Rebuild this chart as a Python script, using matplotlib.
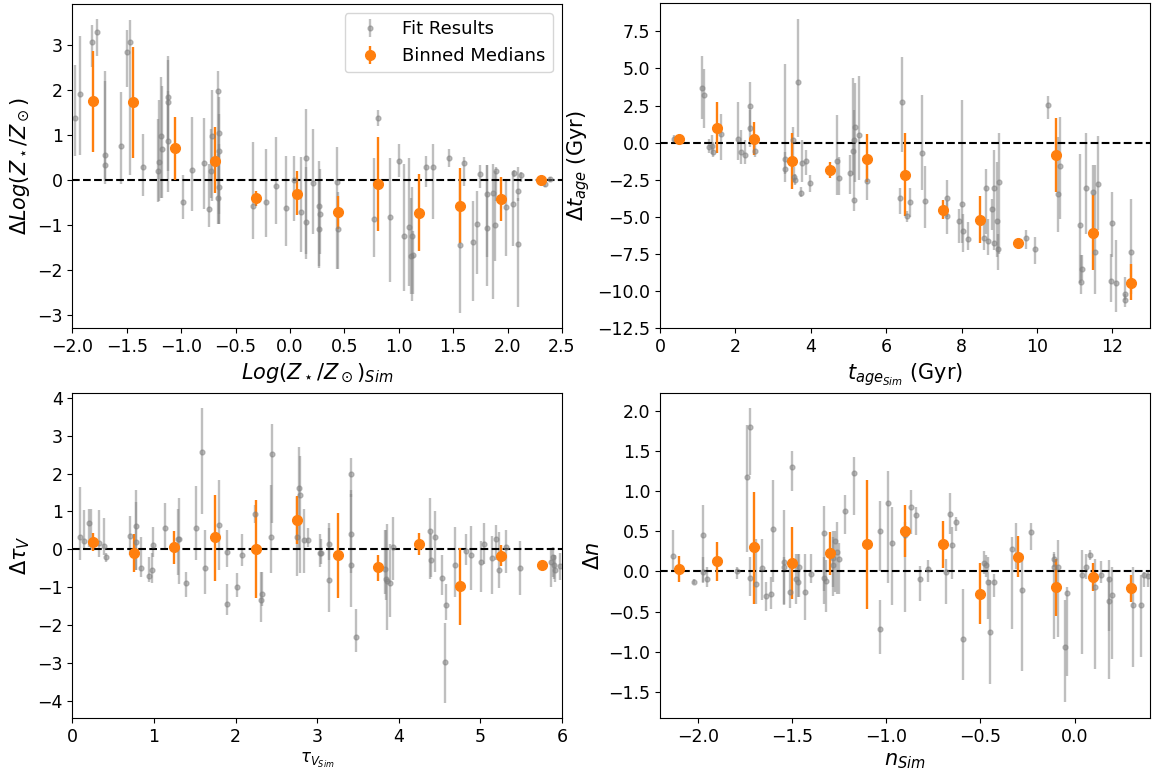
import numpy as np
import matplotlib
matplotlib.use("Agg")
import matplotlib.pyplot as plt

# --- metallicity panel ---
met_x = [-1.98, -1.93, -1.82, -1.77, -1.70, -1.70, -1.55, -1.50, -1.47, -1.35, -1.21, -1.20, -1.19, -1.18,
         -1.12, -1.12, -1.12, -0.98, -0.90, -0.79, -0.74, -0.73, -0.72, -0.66, -0.65, -0.65, -0.65, -0.66,
         -0.34, -0.22, -0.13, -0.04, 0.04, 0.10, 0.15, 0.15, 0.21, 0.27, 0.28, 0.27, 0.43, 0.44,
         0.77, 0.81, 0.92, 1.00, 1.05, 1.09, 1.11, 1.12, 1.13, 1.25, 1.31, 1.46, 1.56, 1.60,
         1.68, 1.72, 1.75, 1.81, 1.81, 1.87, 1.88, 1.89, 1.99, 2.05, 2.06, 2.10, 2.10, 2.12, 2.39, 2.34]
met_y = [1.37, 1.92, 3.07, 3.29, 0.56, 0.33, 0.75, 2.84, 3.07, 0.28, 0.19, 0.41, 0.99, 0.69,
         1.84, 1.73, 0.86, -0.48, 0.23, 0.37, -0.65, 0.19, 0.97, 1.99, 1.04, 0.64, -0.16, -0.39,
         -0.57, -0.50, -0.13, -0.62, -0.01, -0.72, 0.50, -0.93, -0.07, -0.59, -0.76, -1.09, -0.05, -1.09,
         -0.86, 1.37, -0.83, 0.43, -1.24, -1.05, -1.69, -1.25, -1.66, 0.30, 0.30, 0.49, -1.45, 0.38,
         -1.37, -0.98, 0.13, -0.31, -1.07, -0.30, -1.00, 0.21, -0.61, -0.54, 0.15, -0.24, -1.43, 0.10, 0.02, -0.09]
met_hi = [2.55, 3.21, 3.45, 3.59, 2.43, 2.20, 1.95, 3.34, 3.56, 1.02, 1.36, 1.77, 2.29, 2.10,
          2.77, 2.66, 1.98, 0.10, 1.41, 1.39, 0.36, 1.14, 2.00, 2.43, 1.47, 1.84, 0.80, 0.58,
          0.85, 0.69, 0.95, 0.54, 0.54, 0.51, 1.58, 0.28, 1.13, 0.43, 0.24, -0.01, 0.73, -0.27,
          0.50, 1.55, 0.50, 0.79, 0.36, 0.50, -0.39, -0.16, -1.14, 0.54, 0.80, 0.69, -0.01, 0.52,
          -0.46, -0.24, 0.33, 0.33, 0.33, 0.36, 0.21, 0.30, -0.01, 0.21, 0.22, 0.28, -0.39, 0.17, 0.07, -0.03]
met_lo = [0.54, 0.56, 2.51, 2.77, -0.02, -0.09, -0.09, 2.08, 0.10, -0.35, -0.50, -0.46, -0.39, -0.39,
          0.88, 0.21, -0.27, -0.87, -0.68, -0.65, -1.05, -0.39, -0.46, 0.50, -0.98, -0.76, -0.98, -0.98,
          -1.32, -1.28, -0.98, -1.48, -0.91, -1.61, -1.65, -1.76, -1.20, -1.91, -1.65, -1.95, -1.98, -1.98,
          -1.72, 1.21, -2.28, 0.06, -2.46, -2.35, -2.54, -2.69, -2.54, -0.16, -0.87, 0.28, -2.95, -0.13,
          -2.69, -2.10, -0.18, -1.72, -2.35, -2.65, -1.80, -0.46, -1.69, -1.46, 0.06, -0.46, -2.83, -0.05, -0.05, -0.15]
met_bin_x = [-1.81, -1.44, -1.06, -0.69, -0.31, 0.06, 0.44, 0.81, 1.19, 1.56, 1.94, 2.31]
met_bin_y = [1.75, 1.74, 0.71, 0.43, -0.41, -0.31, -0.72, -0.10, -0.73, -0.59, -0.42, 0.0]
met_bin_hi = [2.88, 2.97, 1.41, 1.17, -0.24, 0.19, -0.35, 0.95, 0.13, 0.26, 0.07, 0.0]
met_bin_lo = [0.62, 0.50, 0.0, -0.30, -0.57, -0.79, -1.08, -1.13, -1.59, -1.41, -0.91, 0.0]

# --- age panel ---
age_x = [0.38, 1.11, 1.18, 1.31, 1.38, 1.40, 1.62, 2.07, 2.16, 2.25, 2.38, 2.38, 2.51, 3.31, 3.31,
         3.52, 3.56, 3.58, 3.67, 3.73, 3.78, 3.87, 3.97, 4.69, 4.74, 5.04, 5.13, 5.15, 5.17, 5.27,
         5.15, 5.49, 6.37, 6.43, 6.56, 6.63, 6.95, 7.04, 7.61, 7.61, 7.94, 8.01, 8.03, 8.16, 8.59,
         8.65, 8.70, 8.82, 8.87, 8.87, 8.95, 8.97, 9.00, 9.71, 9.94, 10.29, 10.55, 10.60, 11.14, 11.17,
         11.20, 11.29, 11.50, 11.55, 11.62, 11.97, 11.99, 12.11, 12.33, 12.33, 12.50]
age_y = [0.27, 3.65, 3.18, -0.29, -0.22, -0.63, 0.61, 0.22, -0.63, -0.83, 2.47, 0.96, -0.56, -1.08, -1.75,
         0.16, -2.31, -2.53, 4.06, -3.39, -1.37, -1.23, -2.74, -1.26, -2.40, -2.04, -0.56, -3.88, 1.05, 0.54,
         0.16, -2.60, -3.74, 2.71, -4.96, -3.99, -0.67, -3.95, -3.72, -4.96, -5.27, -4.15, -5.92, -6.52, -6.41,
         -3.07, -6.61, -4.44, -3.03, -6.79, -5.27, -7.13, -2.65, -6.41, -7.15, 2.56, -3.43, -1.55, -5.56, -9.37,
         -8.52, -3.05, -3.30, -7.35, -2.80, -9.33, -5.38, -9.46, -10.18, -10.61, -7.38]
age_hi = [0.49, 5.87, 4.93, 0.27, 0.49, 0.04, 1.95, 2.76, 0.83, 0.16, 4.11, 2.17, 0.38, 5.27, -0.63,
          1.05, -1.64, -2.08, 8.34, -2.98, 0.16, -0.52, -2.20, 1.84, -0.96, -0.85, 4.33, -2.76, 4.04, 4.51,
          2.17, -1.30, -3.05, 5.74, -4.57, -3.05, 3.23, -1.60, -2.53, -3.90, -4.44, 2.85, -4.78, -5.34, -5.22,
          -1.75, -5.11, -3.77, -0.52, -5.90, -1.30, -6.12, 0.65, -5.87, -6.34, 3.12, 0.38, 1.72, -0.74, -7.58,
          -7.58, 0.67, -1.52, -1.52, 0.43, -7.47, -3.32, -6.57, -9.04, -10.16, -3.77]
age_lo = [0.04, 1.61, 0.99, -0.70, -0.78, -0.96, -1.19, -1.19, -1.41, -1.41, 0.72, -0.29, -0.96, -2.08, -2.65,
          -1.52, -2.65, -2.87, 0.38, -3.66, -2.65, -2.20, -3.30, -3.55, -3.55, -3.45, -2.20, -4.57, -2.65, -2.53,
          -2.76, -3.88, -4.78, -0.63, -5.34, -5.00, -3.21, -5.78, -5.00, -6.12, -6.79, -6.79, -7.35, -7.24, -7.24,
          -6.12, -7.58, -5.90, -5.90, -7.24, -7.69, -8.61, -7.47, -7.13, -8.14, 1.61, -6.00, -5.11, -9.48, -10.16,
          -9.26, -6.12, -6.12, -10.16, -5.90, -10.72, -7.69, -11.39, -10.61, -11.05, -10.16]
age_bin_x = [0.5, 1.5, 2.5, 3.5, 4.5, 5.5, 6.5, 7.5, 8.5, 9.5, 10.5, 11.5, 12.5]
age_bin_y = [0.25, 1.01, 0.25, -1.26, -1.82, -1.08, -2.15, -4.51, -5.18, -6.79, -0.83, -6.08, -9.44]
age_bin_hi = [0.25, 2.74, 1.39, 0.67, -1.28, 0.61, 0.67, -3.83, -3.61, -6.57, 1.68, -3.54, -8.14]
age_bin_lo = [0.25, -0.70, -0.85, -3.09, -2.35, -2.65, -4.96, -5.11, -6.75, -7.02, -3.32, -8.59, -10.60]

# --- dust panel ---
tau_x = [0.09, 0.14, 0.20, 0.23, 0.32, 0.39, 0.41, 0.70, 0.78, 0.78, 0.84, 0.94, 0.97, 0.99, 1.13,
         1.29, 1.31, 1.39, 1.51, 1.59, 1.63, 1.80, 1.89, 1.90, 2.02, 2.08, 2.24, 2.31, 2.32, 2.43,
         2.45, 2.75, 2.78, 2.79, 2.84, 2.89, 3.04, 3.05, 3.14, 3.14, 3.42, 3.42, 3.42, 3.48, 3.83,
         3.84, 3.86, 3.89, 3.93, 4.38, 4.40, 4.44, 4.53, 4.57, 4.58, 4.69, 4.82, 4.88, 5.01, 5.05,
         5.14, 5.19, 5.23, 5.31, 5.49, 5.86, 5.89, 5.90, 5.92, 5.98]
tau_y = [0.31, 0.22, 0.70, 0.17, 0.17, 0.09, -0.20, 0.35, 0.61, 0.19, -0.49, -0.70, -0.55, 0.11, 0.56,
         0.26, 0.27, -0.88, 0.55, 2.56, -0.50, 0.64, -0.07, -1.44, -1.01, -0.15, 0.94, -1.33, -1.17, 0.32,
         2.51, 0.32, 1.63, 1.43, 0.24, 0.24, -0.11, -0.11, 0.13, -0.82, 0.40, 2.00, -0.42, -2.32, -0.51,
         -0.80, -0.84, -0.89, 0.06, 0.48, -0.29, 0.33, -0.75, -2.98, -1.48, -0.41, -0.06, -0.15, -0.33, 0.13,
         -0.23, 0.28, -0.56, 0.06, -0.49, -0.35, -0.20, -0.42, -0.56, -0.44]
tau_hi = [1.65, 1.03, 1.07, 1.07, 1.03, 0.83, -0.11, 0.88, 1.57, 1.25, 0.33, -0.20, -0.11, 0.60, 1.21,
          1.07, 1.34, -0.60, 1.67, 3.74, 0.50, 1.84, 0.50, -0.91, -0.64, 0.40, 1.16, -0.60, -0.60, 1.69,
          3.30, 1.39, 2.70, 2.46, 1.07, 0.55, 0.41, 0.28, 0.68, 0.55, 1.56, 2.40, 1.47, -1.57, 0.50,
          0.50, 0.66, 0.15, 0.85, 1.34, 0.41, 1.00, -0.16, -1.96, -0.91, 0.59, 0.41, 0.61, 0.22, 0.68,
          0.35, 0.63, 0.46, 0.50, 0.21, 0.01, 0.06, -0.16, -0.16, -0.11]
tau_lo = [-0.29, -0.03, 0.06, -0.03, -0.20, -0.16, -0.33, -0.16, -0.55, -0.55, -0.73, -0.86, -0.89, -0.20, -0.03,
          -0.69, -0.91, -1.26, -0.29, 0.94, -1.17, -0.56, -0.47, -1.75, -1.26, -0.44, 0.68, -1.92, -1.50, -0.64,
          0.70, -0.71, 0.01, -0.64, -0.64, 0.06, -0.47, -0.38, -0.29, -1.65, -0.64, 1.39, -1.53, -2.72, -1.17,
          -1.35, -2.14, -1.79, -0.82, -0.78, -0.73, -0.60, -1.21, -4.06, -1.88, -1.26, -0.42, -1.09, -1.13, -0.38,
          -1.17, -0.29, -1.02, -0.64, -1.21, -1.00, -0.73, -0.78, -0.86, -0.82]
tau_bin_x = [0.25, 0.75, 1.25, 1.75, 2.25, 2.75, 3.25, 3.75, 4.25, 4.75, 5.25, 5.75]
tau_bin_y = [0.20, -0.10, 0.05, 0.31, 0.0, 0.78, -0.16, -0.48, 0.14, -0.98, -0.18, -0.41]
tau_bin_hi = [0.43, 0.40, 0.48, 1.44, 1.30, 1.40, 0.96, -0.14, 0.43, 0.04, 0.11, -0.41]
tau_bin_lo = [-0.04, -0.60, -0.40, -0.85, -1.28, 0.13, -1.29, -0.85, -0.16, -1.99, -0.45, -0.41]

# --- dust index panel ---
n_x = [-2.13, -2.02, -1.97, -1.97, -1.95, -1.79, -1.74, -1.72, -1.72, -1.69, -1.66, -1.64, -1.60, -1.61, -1.54,
       -1.54, -1.51, -1.50, -1.48, -1.46, -1.47, -1.43, -1.40, -1.33, -1.33, -1.32, -1.28, -1.28, -1.27, -1.26,
       -1.25, -1.22, -1.17, -1.03, -1.03, -0.99, -0.97, -0.90, -0.87, -0.84, -0.82, -0.78, -0.68, -0.66, -0.65,
       -0.63, -0.59, -0.48, -0.47, -0.46, -0.45, -0.43, -0.33, -0.31, -0.28, -0.23, -0.11, -0.11, -0.09, -0.05,
       -0.04, 0.04, 0.06, 0.08, 0.11, 0.14, 0.18, 0.18, 0.20, 0.31, 0.35, 0.37, 0.39]
n_y = [0.19, -0.13, 0.46, -0.01, -0.09, 0.0, 1.18, 1.80, -0.08, -0.16, 0.04, -0.31, 0.53, -0.28, 0.12,
       0.05, -0.26, 1.31, -0.09, 0.05, -0.13, -0.26, -0.03, 0.48, -0.08, -0.12, 0.17, 0.08, 0.38, 0.24,
       0.16, 0.75, 1.23, 0.50, -0.72, 0.85, 0.35, 0.45, 0.81, 0.70, -0.10, 0.03, -0.01, 0.72, 0.33,
       0.62, -0.84, 0.10, 0.08, -0.13, -0.76, -0.13, 0.28, 0.19, -0.23, 0.49, 0.16, 0.05, 0.05, -0.94,
       -0.27, -0.05, 0.06, 0.21, -0.19, -0.04, -0.10, -0.37, -0.29, -0.42, -0.42, -0.05, -0.06]
n_hi = [0.52, -0.09, 0.83, 0.18, 0.05, 0.06, 1.83, 2.04, 0.18, 0.41, 0.41, -0.13, 1.14, -0.07, 0.77,
        0.18, 0.10, 1.50, 0.22, 0.22, 0.22, 0.22, 0.22, 0.82, 0.18, 0.14, 0.43, 0.51, 0.51, 0.62,
        0.35, 0.95, 1.43, 0.88, -0.35, 1.26, 0.81, 0.62, 1.02, 0.80, 0.07, 0.14, 0.16, 0.98, 0.55,
        0.68, -0.22, 0.25, 0.20, 0.18, -0.11, -0.03, 0.43, 0.60, 0.22, 0.60, 0.24, 0.22, 0.39, -0.36,
        -0.20, 0.27, 0.22, 0.27, 0.16, 0.13, 0.14, -0.07, 0.05, 0.05, -0.05, -0.01, -0.01]
n_lo = [0.01, -0.16, -0.15, -0.13, -0.20, -0.09, 0.24, 1.20, -0.30, -0.40, -0.36, -0.49, -0.13, -0.47, -0.41,
        -0.42, -0.45, 1.00, -0.40, -0.32, -0.32, -0.61, -0.15, -0.24, -0.40, -0.51, -0.30, -0.20, -0.26, -0.28,
        -0.28, 0.47, 0.70, 0.01, -1.03, -0.15, -0.42, -0.51, 0.47, 0.45, -0.37, -0.13, -0.40, 0.47, -0.09,
        0.51, -1.36, -0.03, -0.07, -0.59, -1.41, -0.32, -0.72, 0.03, -1.24, 0.27, 0.05, -0.84, -0.82, -1.63,
        -1.30, -1.03, -0.09, 0.14, -1.22, -0.15, -0.74, -1.34, -1.09, -1.19, -1.07, -0.20, -0.20]
n_bin_x = [-2.1, -1.9, -1.7, -1.5, -1.3, -1.1, -0.9, -0.7, -0.5, -0.3, -0.1, 0.1, 0.3]
n_bin_y = [0.03, 0.13, 0.30, 0.11, 0.23, 0.34, 0.51, 0.34, -0.28, 0.18, -0.20, -0.07, -0.21]
n_bin_hi = [0.19, 0.37, 0.99, 0.55, 0.49, 1.14, 0.83, 0.63, 0.10, 0.44, 0.16, 0.10, -0.05]
n_bin_lo = [-0.13, -0.12, -0.40, -0.34, -0.04, -0.47, 0.18, 0.04, -0.65, -0.07, -0.56, -0.24, -0.38]


def yerr_from(y, lo, hi):
    y = np.asarray(y)
    return [np.clip(y - np.asarray(lo), 0, None), np.clip(np.asarray(hi) - y, 0, None)]


def draw_panel(ax, x, y, lo, hi, bx, by, blo, bhi):
    ax.errorbar(x, y, yerr=yerr_from(y, lo, hi), fmt='o', color='grey', alpha=0.5,
                ms=3.5, elinewidth=1.7, label='Fit Results')
    ax.axhline(0, color='k', ls='--', lw=1.5)
    ax.errorbar(bx, by, yerr=yerr_from(by, blo, bhi), fmt='o', color='tab:orange',
                ms=7, elinewidth=1.7, label='Binned Medians')
    ax.tick_params(labelsize=12.5)


fig = plt.figure(figsize=(11.53, 7.76), dpi=100)
ax1 = fig.add_axes([0.0628, 0.577, 0.4246, 0.418])
ax2 = fig.add_axes([0.5724, 0.577, 0.4250, 0.419])
ax3 = fig.add_axes([0.0628, 0.0747, 0.4246, 0.419])
ax4 = fig.add_axes([0.5724, 0.0747, 0.4250, 0.419])

draw_panel(ax1, met_x, met_y, met_lo, met_hi, met_bin_x, met_bin_y, met_bin_lo, met_bin_hi)
ax1.set_xlim(-2.0, 2.5)
ax1.set_ylim(-3.3, 3.92)
ax1.set_xticks(np.arange(-2.0, 2.51, 0.5))
ax1.set_xlabel(r'$Log(Z_\star/Z_\odot)_{Sim}$', fontsize=15)
ax1.set_ylabel(r'$\Delta Log(Z_\star/Z_\odot)$', fontsize=15)
ax1.legend(loc='upper right', fontsize=13)

draw_panel(ax2, age_x, age_y, age_lo, age_hi, age_bin_x, age_bin_y, age_bin_lo, age_bin_hi)
ax2.set_xlim(0, 13)
ax2.set_ylim(-12.5, 9.4)
ax2.set_xlabel(r'$t_{age_{Sim}}$ (Gyr)', fontsize=15)
ax2.set_ylabel(r'$\Delta t_{age}$ (Gyr)', fontsize=15)

draw_panel(ax3, tau_x, tau_y, tau_lo, tau_hi, tau_bin_x, tau_bin_y, tau_bin_lo, tau_bin_hi)
ax3.set_xlim(0, 6)
ax3.set_ylim(-4.46, 4.13)
ax3.set_xlabel(r'$\tau_{V_{Sim}}$', fontsize=12)
ax3.set_ylabel(r'$\Delta\tau_V$', fontsize=15)

draw_panel(ax4, n_x, n_y, n_lo, n_hi, n_bin_x, n_bin_y, n_bin_lo, n_bin_hi)
ax4.set_xlim(-2.2, 0.4)
ax4.set_ylim(-1.83, 2.23)
ax4.set_xticks([-2.0, -1.5, -1.0, -0.5, 0.0])
ax4.set_xlabel(r'$n_{Sim}$', fontsize=15)
ax4.set_ylabel(r'$\Delta n$', fontsize=15)

fig.savefig('out.png', dpi=100)
